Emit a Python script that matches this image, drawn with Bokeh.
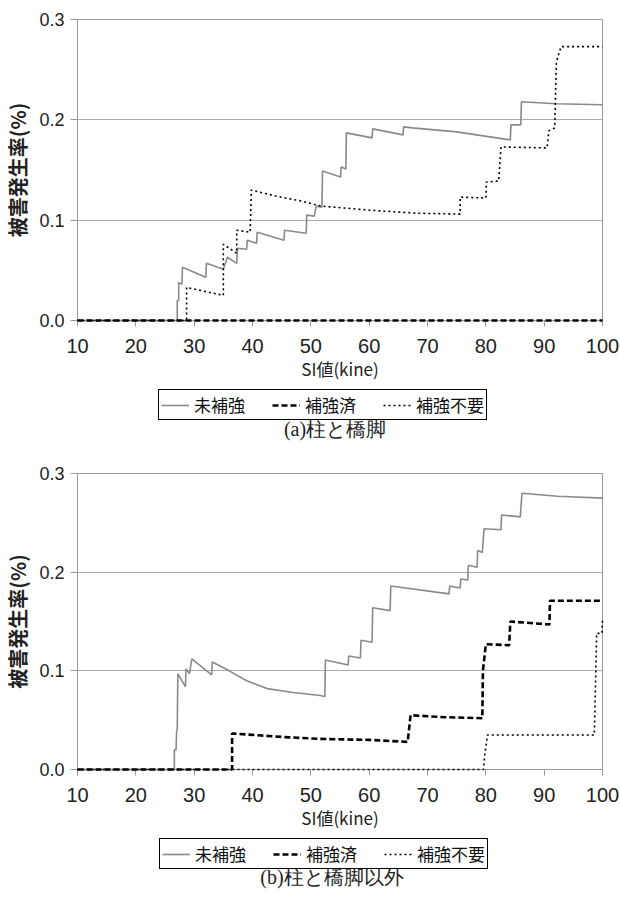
from bokeh.plotting import figure
from bokeh.models import Range1d, Legend, LegendItem, Label, FixedTicker, PrintfTickFormatter
from bokeh.layouts import column
from bokeh.embed import file_html
from bokeh.resources import INLINE

# ---------------- data ----------------
# (a) 柱と橋脚
a_unrein_x = [10, 27.1, 27.1, 27.35, 27.35, 27.9, 28.0, 32.0, 32.1, 35.0, 35.7, 37.3, 37.4, 39.0, 39.1, 40.7, 40.8,
              45.4, 45.5, 49.2, 49.3, 50.6, 50.9, 51.9, 52.0, 55.1, 55.2, 56.0, 56.1, 60.5, 60.6, 65.8, 65.9,
              67.4, 75.0, 84.2, 84.3, 86.0, 86.1, 92.0, 100]
a_unrein_y = [0, 0, 0.020, 0.020, 0.038, 0.036, 0.053, 0.043, 0.057, 0.051, 0.063, 0.057, 0.072, 0.071, 0.080, 0.077, 0.088,
              0.080, 0.090, 0.087, 0.105, 0.104, 0.114, 0.113, 0.149, 0.143, 0.153, 0.151, 0.187, 0.182, 0.191, 0.185, 0.193,
              0.192, 0.188, 0.180, 0.195, 0.195, 0.218, 0.216, 0.215]
a_rein_x = [10, 100]
a_rein_y = [0, 0]
a_none_x = [10, 28.7, 28.7, 35.0, 35.0, 37.3, 37.3, 39.6, 39.8, 44.0, 48.4, 51.8, 60.0, 68.0, 75.6, 75.6,
            80.0, 80.1, 82.2, 82.6, 90.5, 90.8, 91.8, 92.1, 92.9, 100]
a_none_y = [0, 0, 0.033, 0.025, 0.076, 0.067, 0.090, 0.088, 0.130, 0.124, 0.119, 0.114, 0.110, 0.107, 0.106, 0.123,
            0.122, 0.138, 0.139, 0.173, 0.172, 0.189, 0.192, 0.258, 0.273, 0.273]

# (b) 柱と橋脚以外
b_unrein_x = [10, 26.6, 26.6, 26.9, 27.0, 27.1, 27.2, 28.5, 28.6, 29.2, 29.6, 33.0, 33.1, 36.0, 39.0, 42.5, 47.0,
              51.6, 52.4, 52.5, 56.4, 56.5, 58.5, 58.6, 60.5, 60.6, 63.6, 63.7, 73.7, 73.8, 75.6, 75.7, 76.9, 77.0,
              78.5, 78.6, 79.4, 79.7, 82.6, 82.7, 85.9, 86.2, 92.3, 100]
b_unrein_y = [0, 0, 0.020, 0.020, 0.040, 0.040, 0.097, 0.084, 0.102, 0.097, 0.112, 0.096, 0.109, 0.100, 0.090, 0.082, 0.078,
              0.075, 0.074, 0.111, 0.106, 0.115, 0.113, 0.131, 0.129, 0.164, 0.161, 0.186, 0.178, 0.186, 0.184, 0.193, 0.192, 0.207,
              0.205, 0.222, 0.220, 0.244, 0.243, 0.258, 0.256, 0.280, 0.277, 0.275]
b_rein_x = [10, 36.5, 36.5, 45.0, 51.6, 60.0, 66.6, 67.1, 73.0, 79.4, 79.5, 80.0, 84.0, 84.2, 90.9, 91.0, 100]
b_rein_y = [0, 0, 0.0365, 0.033, 0.031, 0.030, 0.028, 0.055, 0.053, 0.052, 0.100, 0.127, 0.126, 0.150, 0.147, 0.171, 0.171]
b_none_x = [10, 79.6, 79.8, 80.3, 98.6, 99.0, 99.9, 100]
b_none_y = [0, 0, 0.0145, 0.035, 0.035, 0.138, 0.138, 0.153]

series_names = ["未補強", "補強済", "補強不要"]
x_ticks = [10, 20, 30, 40, 50, 60, 70, 80, 90, 100]
y_ticks = [0.0, 0.1, 0.2, 0.3]
x_title = "SI値(kine)"
y_title = "被害発生率(%)"
captions = ["(a)柱と橋脚", "(b)柱と橋脚以外"]

CJK = "Noto Sans CJK JP"
AX = "#999999"
BL, BR = 76, 18          # shared left / right borders (frames are aligned in the column)
STYLES = [dict(line_color="#8a8a8a", line_width=1.6),
          dict(line_color="black", line_width=2.6, line_dash="6 3"),
          dict(line_color="black", line_width=1.6, line_dash="2 3")]


def chart(series, height, b_top, b_bottom):
    p = figure(width=620, height=height, output_backend="svg", toolbar_location=None,
               x_range=Range1d(10, 100), y_range=Range1d(0, 0.3),
               min_border_left=BL, min_border_right=BR, min_border_top=b_top,
               min_border_bottom=b_bottom)
    p.outline_line_color = AX
    p.background_fill_color = "white"
    p.border_fill_color = "white"
    p.xgrid.visible = False
    p.ygrid.ticker = FixedTicker(ticks=y_ticks)
    p.ygrid.grid_line_color = "#ababab"

    p.xaxis.ticker = FixedTicker(ticks=x_ticks)
    p.yaxis.ticker = FixedTicker(ticks=y_ticks)
    p.yaxis.formatter = PrintfTickFormatter(format="%.1f")
    for ax in (p.xaxis, p.yaxis):
        ax.axis_line_color = AX
        ax.major_tick_line_color = AX
        ax.minor_tick_line_color = None
        ax.major_tick_in = 0
        ax.major_label_text_color = "#222222"
        ax.major_label_text_font = "Liberation Sans"
        ax.axis_label_text_color = "#222222"
        ax.axis_label_text_font = CJK
    p.xaxis.major_tick_out = 6
    p.yaxis.major_tick_out = 7
    p.xaxis.major_label_text_font_size = "20px"
    p.yaxis.major_label_text_font_size = "18px"
    p.xaxis.major_label_standoff = 12
    p.yaxis.major_label_standoff = 6

    p.xaxis.axis_label = x_title
    p.xaxis.axis_label_text_font_size = "17px"
    p.xaxis.axis_label_text_font_style = "normal"
    p.xaxis.axis_label_standoff = 0
    p.yaxis.axis_label = y_title
    p.yaxis.axis_label_text_font_size = "20px"
    p.yaxis.axis_label_text_font_style = "bold"
    p.yaxis.axis_label_standoff = 4

    for (xs, ys), st in zip(series, STYLES):
        p.line(xs, ys, level="overlay", **st)
    return p


def legend_box(series, height, leg_x, leg_y, caption, cap_x, cap_y):
    # frame spans page x BL..620-BR, so data x == page x
    q = figure(width=620, height=height, output_backend="svg", toolbar_location=None,
               x_range=Range1d(BL, 620 - BR), y_range=Range1d(0, height),
               x_axis_type=None, y_axis_type=None,
               min_border_left=BL, min_border_right=BR, min_border_top=0, min_border_bottom=0)
    q.outline_line_color = None
    q.grid.visible = False
    q.background_fill_color = "white"
    q.border_fill_color = "white"
    # one-point lines: invisible, only used to carry the legend styles
    rs = [q.line(xs[:1], ys[:1], **st) for (xs, ys), st in zip(series, STYLES)]
    leg = Legend(items=[LegendItem(label=n, renderers=[r]) for n, r in zip(series_names, rs)],
                 orientation="horizontal", location=(leg_x - BL, leg_y),
                 border_line_color="black", border_line_width=1, border_line_alpha=1,
                 background_fill_color="white", background_fill_alpha=1,
                 label_text_font=CJK, label_text_font_size="17px", label_text_color="#111111",
                 glyph_width=28, glyph_height=16, label_standoff=5, spacing=27,
                 padding=2, margin=0)
    q.add_layout(leg, "center")
    q.add_layout(Label(x=cap_x, y=cap_y, text=caption, text_align="center", text_baseline="middle",
                       text_font="Liberation Serif", text_font_size="20px", text_color="#222222"))
    return q


sa = [(a_unrein_x, a_unrein_y), (a_rein_x, a_rein_y), (a_none_x, a_none_y)]
sb = [(b_unrein_x, b_unrein_y), (b_rein_x, b_rein_y), (b_none_x, b_none_y)]
p1 = chart(sa, 385, 19, 65)
l1 = legend_box(sa, 65, 157, 30, captions[0], 334, 22)
p2 = chart(sb, 384, 23, 65)
l2 = legend_box(sb, 64, 158, 29, captions[1], 331, 22)

layout = column(p1, l1, p2, l2, spacing=0)
open("out.html", "w").write(file_html(layout, INLINE))
